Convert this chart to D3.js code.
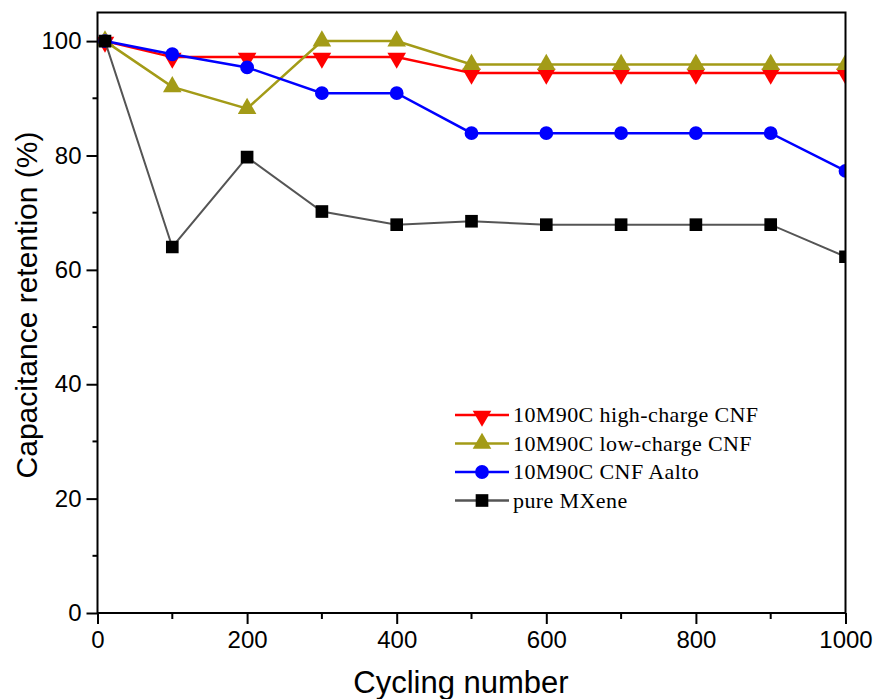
<!DOCTYPE html>
<html>
<head>
<meta charset="utf-8">
<script src="https://cdn.jsdelivr.net/npm/d3@7/dist/d3.min.js"></script>
<style>
  html, body { margin: 0; padding: 0; background: #fff; }
  svg { display: block; }
</style>
</head>
<body>
<svg id="chart" width="877" height="699"></svg>
<script>
// cycle numbers (x) and capacitance retention (%) for each sample
var cycles = [10, 100, 200, 300, 400, 500, 600, 700, 800, 900, 1000];
var highCharge = [100, 97.2, 97.2, 97.2, 97.2, 94.4, 94.4, 94.4, 94.4, 94.4, 94.4];
var lowCharge = [100, 92.0, 88.2, 100, 100, 95.9, 95.9, 95.9, 95.9, 95.9, 95.9];
var aalto = [100, 97.7, 95.4, 90.9, 90.9, 83.9, 83.9, 83.9, 83.9, 83.9, 77.3];
var pureMXene = [100, 64.0, 79.7, 70.2, 67.9, 68.5, 67.9, 67.9, 67.9, 67.9, 62.3];

var seriesNames = ['10M90C high-charge CNF', '10M90C low-charge CNF', '10M90C CNF Aalto', 'pure MXene'];
var xTicks = [0, 200, 400, 600, 800, 1000];
var yTicks = [0, 20, 40, 60, 80, 100];

var series = [
  { name: seriesNames[0], values: highCharge, line: '#ff0000', fill: '#ff0000', shape: 'down' },
  { name: seriesNames[1], values: lowCharge, line: '#a39b17', fill: '#a39b17', shape: 'up' },
  { name: seriesNames[2], values: aalto, line: '#0000ff', fill: '#0000ff', shape: 'circle' },
  { name: seriesNames[3], values: pureMXene, line: '#555555', fill: '#000000', shape: 'square' }
];

var svg = d3.select('#chart');
// plot box edges (note: "top" is reserved on window, so use other names)
var plotL = 97.5, plotR = 845.5, plotT = 12.5, plotB = 613;

var x = d3.scaleLinear().domain([0, 1000]).range([plotL, plotR]);
var y = d3.scaleLinear().domain([0, 105]).range([plotB, plotT]);

// clip so markers at the edge get cut like the original
svg.append('defs').append('clipPath').attr('id', 'plotClip')
  .append('rect')
  .attr('x', plotL).attr('y', 0)
  .attr('width', plotR - plotL).attr('height', plotB);

function symbolFor(shape) {
  if (shape === 'circle') return d3.symbol().type(d3.symbolCircle).size(150)();
  if (shape === 'square') return d3.symbol().type(d3.symbolSquare).size(160)();
  return d3.symbol().type(d3.symbolTriangle).size(150)();
}
function markerTransform(shape, px, py) {
  if (shape === 'down') return 'translate(' + px + ',' + (py + 1) + ') rotate(180)';
  return 'translate(' + px + ',' + py + ')';
}

var plot = svg.append('g').attr('clip-path', 'url(#plotClip)');

var line = d3.line()
  .x(function(d, i) { return x(cycles[i]); })
  .y(function(d) { return y(d); });

// one group per series, in legend order (pure MXene ends up on top)
series.forEach(function(s) {
  var g = plot.append('g');
  g.append('path')
    .attr('d', line(s.values))
    .attr('fill', 'none')
    .attr('stroke', s.line)
    .attr('stroke-width', s.shape === 'square' ? 2 : 2.5);
  g.selectAll(null)
    .data(s.values)
    .enter()
    .append('path')
    .attr('d', symbolFor(s.shape))
    .attr('transform', function(d, i) { return markerTransform(s.shape, x(cycles[i]), y(d)); })
    .attr('fill', s.fill);
});

// axes
var xAxis = d3.axisBottom(x).tickValues(xTicks).tickFormat(d3.format('d'))
  .tickSize(11).tickSizeOuter(0).tickPadding(7);
var yAxis = d3.axisLeft(y).tickValues(yTicks).tickFormat(d3.format('d'))
  .tickSize(11).tickSizeOuter(0).tickPadding(5);

var gx = svg.append('g').attr('transform', 'translate(0,' + plotB + ')').call(xAxis);
var gy = svg.append('g').attr('transform', 'translate(' + plotL + ',0)').call(yAxis);

[gx, gy].forEach(function(g) {
  g.select('.domain').remove();
  g.selectAll('.tick line').attr('stroke', '#000').attr('stroke-width', 2);
  g.selectAll('.tick text')
    .attr('fill', '#000')
    .style('font-family', 'Liberation Sans, Arial, sans-serif')
    .style('font-size', '24px');
});

// minor ticks
svg.append('g').selectAll('line')
  .data([100, 300, 500, 700, 900])
  .enter().append('line')
  .attr('x1', function(d) { return x(d); }).attr('x2', function(d) { return x(d); })
  .attr('y1', plotB).attr('y2', plotB + 6)
  .attr('stroke', '#000').attr('stroke-width', 2);
svg.append('g').selectAll('line')
  .data([10, 30, 50, 70, 90])
  .enter().append('line')
  .attr('x1', plotL - 5).attr('x2', plotL)
  .attr('y1', function(d) { return y(d); }).attr('y2', function(d) { return y(d); })
  .attr('stroke', '#000').attr('stroke-width', 2);

// frame
svg.append('rect')
  .attr('x', plotL).attr('y', plotT)
  .attr('width', plotR - plotL).attr('height', plotB - plotT)
  .attr('fill', 'none').attr('stroke', '#000').attr('stroke-width', 2);

// axis titles
svg.append('text')
  .attr('x', 461).attr('y', 693)
  .attr('text-anchor', 'middle')
  .style('font-family', 'Liberation Sans, Arial, sans-serif')
  .style('font-size', '31px')
  .text('Cycling number');

svg.append('text')
  .attr('transform', 'translate(37,305) rotate(-90)')
  .attr('text-anchor', 'middle')
  .style('font-family', 'Liberation Sans, Arial, sans-serif')
  .style('font-size', '30px')
  .text('Capacitance retention (%)');

// legend
var legend = svg.append('g');
series.forEach(function(s, i) {
  var ly = 415 + i * 28.5;
  legend.append('line')
    .attr('x1', 455).attr('x2', 509)
    .attr('y1', ly).attr('y2', ly)
    .attr('stroke', s.line).attr('stroke-width', 2.5);
  legend.append('path')
    .attr('d', symbolFor(s.shape))
    .attr('transform', markerTransform(s.shape, 482, ly))
    .attr('fill', s.fill);
  legend.append('text')
    .attr('x', 513).attr('y', ly + 7)
    .style('font-family', 'Liberation Serif, Times New Roman, serif')
    .style('font-size', '22px')
    .style('letter-spacing', '0.4px')
    .text(s.name);
});
</script>
</body>
</html>
